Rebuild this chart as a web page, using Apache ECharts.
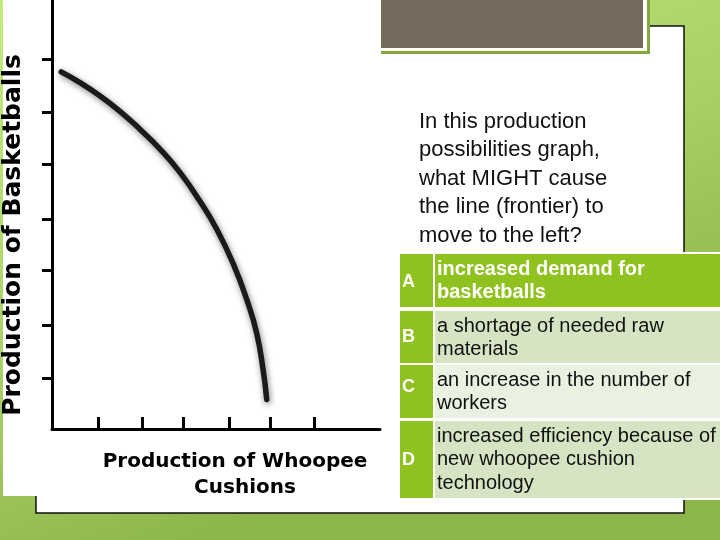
<!DOCTYPE html>
<html>
<head>
<meta charset="utf-8">
<script src="https://cdn.jsdelivr.net/npm/echarts@6/dist/echarts.min.js"></script>
<style>
  html, body { margin: 0; padding: 0; background: #fff; }
  #main { width: 720px; height: 540px; }
</style>
</head>
<body>
<div id="main"></div>
<script>
// frontier curve (x = whoopee cushions, y = basketballs)
var cushions = [0.21, 0.64, 1.10, 1.56, 2.01, 2.47, 2.93, 3.38, 3.77, 4.15, 4.45, 4.68, 4.83, 4.91]
var basketballs = [6.66, 6.46, 6.21, 5.92, 5.59, 5.22, 4.78, 4.25, 3.72, 3.07, 2.42, 1.79, 1.09, 0.55]

// tick marks (hand drawn, so not quite even)
var xTicks = [1.06, 2.07, 3.0, 4.05, 5.0, 5.99]
var yTicks = [0.94, 1.93, 2.96, 3.92, 4.93, 5.91, 6.90]

var xTitle = ['Production of Whoopee', 'Cushions']
var yTitle = 'Production of Basketballs'

var question = [
    'In this production',
    'possibilities graph,',
    'what MIGHT cause',
    'the line (frontier) to',
    'move to the left?'
]
var optionLetters = ['A', 'B', 'C', 'D']
var optionLines = [
    ['increased demand for', 'basketballs'],
    ['a shortage of needed raw', 'materials'],
    ['an increase in the number of', 'workers'],
    ['increased efficiency because of', 'new whoopee cushion', 'technology']
]

var myChart = echarts.init(document.getElementById('main'))

var curve = cushions.map(function (x, i) {
    return [x, basketballs[i]]
})

// slide decoration
var graphics = [
    {
        type: 'rect', z: 0,
        shape: { x: 0, y: 0, width: 720, height: 540 },
        style: {
            fill: new echarts.graphic.LinearGradient(0, 0, 0.3, 1, [
                { offset: 0, color: '#c5eb7f' },
                { offset: 0.6, color: '#a9d066' },
                { offset: 1, color: '#8cb54a' }
            ])
        }
    },
    {
        type: 'rect', z: 0,
        shape: { x: 36, y: 26, width: 648, height: 487 },
        style: { fill: '#fff', stroke: '#111', lineWidth: 1.5 }
    },
    {
        type: 'rect', z: 0,
        shape: { x: 3, y: 0, width: 378, height: 496 },
        style: { fill: '#fff' }
    },
    {
        type: 'rect', z: 0,
        shape: { x: 381, y: 0, width: 269, height: 54 },
        style: { fill: '#86a83a' }
    },
    {
        type: 'rect', z: 0,
        shape: { x: 381, y: 0, width: 266, height: 51 },
        style: { fill: '#fff' }
    },
    {
        type: 'rect', z: 0,
        shape: { x: 381, y: 0, width: 262, height: 48 },
        style: { fill: '#756a5b' }
    }
]

question.forEach(function (line, i) {
    graphics.push({
        type: 'text', z: 1,
        style: {
            text: line, x: 419, y: 122 + i * 28.4,
            font: '22px "Liberation Sans", Arial, sans-serif',
            fill: '#111', align: 'left', verticalAlign: 'middle'
        }
    })
})

var rowTop = [254, 311, 365, 421]
var rowBottom = [307, 363, 418, 498]
var rowFill = ['#8fc21f', '#d5e5c3', '#e9f1e0', '#d5e5c3']
var letterY = [282, 337, 387, 460]
optionLetters.forEach(function (letter, i) {
    graphics.push({
        type: 'rect', z: 1,
        shape: { x: 398, y: rowTop[i] - 2, width: 322, height: rowBottom[i] - rowTop[i] + 4 },
        style: { fill: '#fff' }
    })
    graphics.push({
        type: 'rect', z: 1,
        shape: { x: 400, y: rowTop[i], width: 33, height: rowBottom[i] - rowTop[i] },
        style: { fill: '#8fc21f' }
    })
    graphics.push({
        type: 'rect', z: 1,
        shape: { x: 435, y: rowTop[i], width: 285, height: rowBottom[i] - rowTop[i] },
        style: { fill: rowFill[i] }
    })
    graphics.push({
        type: 'text', z: 2,
        style: {
            text: letter, x: 402, y: letterY[i],
            font: 'bold 18px "Liberation Sans", Arial, sans-serif',
            fill: '#fff', align: 'left', verticalAlign: 'middle'
        }
    })
    optionLines[i].forEach(function (line, j) {
        graphics.push({
            type: 'text', z: 2,
            style: {
                text: line, x: 437, y: rowTop[i] + 15 + j * 23.6,
                font: (i == 0 ? 'bold ' : '') + '20px "Liberation Sans", Arial, sans-serif',
                fill: i == 0 ? '#fff' : '#111', align: 'left', verticalAlign: 'middle'
            }
        })
    })
})

// axis titles
graphics.push({
    type: 'text', z: 2, x: 13, y: 235, rotation: Math.PI / 2,
    style: {
        text: yTitle, x: 0, y: 0,
        font: 'bold 25px "DejaVu Sans", sans-serif',
        fill: '#000', align: 'center', verticalAlign: 'middle'
    }
})
graphics.push({
    type: 'text', z: 2,
    style: {
        text: xTitle[0], x: 235, y: 462,
        font: 'bold 20px "DejaVu Sans", sans-serif',
        fill: '#000', align: 'center', verticalAlign: 'middle'
    }
})
graphics.push({
    type: 'text', z: 2,
    style: {
        text: xTitle[1], x: 245, y: 488,
        font: 'bold 20px "DejaVu Sans", sans-serif',
        fill: '#000', align: 'center', verticalAlign: 'middle'
    }
})

myChart.setOption({
    animation: false,
    graphic: { elements: graphics },
    grid: { left: 52, top: 0, right: 340, bottom: 111 },
    xAxis: {
        type: 'value', min: 0, max: 7.5, z: 5,
        axisLine: { lineStyle: { color: '#000', width: 3 } },
        axisTick: { inside: true, length: 12, customValues: xTicks, lineStyle: { color: '#000', width: 3 } },
        axisLabel: { show: false },
        splitLine: { show: false }
    },
    yAxis: {
        type: 'value', min: 0, max: 8, z: 5,
        axisLine: { lineStyle: { color: '#000', width: 3 } },
        axisTick: { inside: false, length: 10, customValues: yTicks, lineStyle: { color: '#000', width: 3 } },
        axisLabel: { show: false },
        splitLine: { show: false }
    },
    series: [{
        type: 'line',
        z: 6,
        data: curve,
        smooth: 0.5,
        symbol: 'none',
        lineStyle: {
            color: '#1a1a1a', width: 5.5, cap: 'round',
            shadowBlur: 6, shadowColor: 'rgba(0,0,0,0.5)', shadowOffsetX: 1, shadowOffsetY: 2
        }
    }]
})
</script>
</body>
</html>
